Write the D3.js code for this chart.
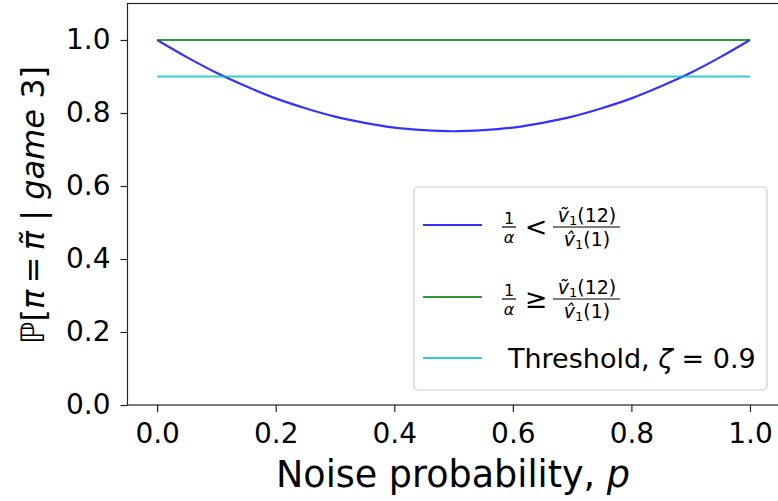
<!DOCTYPE html>
<html lang="en">
<head>
<meta charset="UTF-8">
<title>Chart</title>
<style>
  body { margin: 0; background: #fff; }
  text { font-family: "DejaVu Sans", sans-serif; fill: #000; }
</style>
</head>
<body>
<svg id="svg" width="778" height="501"></svg>
<script src="https://d3js.org/d3.v7.min.js"></script>
<script>
// values
const pValues = [0, 0.05, 0.1, 0.15, 0.2, 0.25, 0.3, 0.35, 0.4, 0.45, 0.5,
                 0.55, 0.6, 0.65, 0.7, 0.75, 0.8, 0.85, 0.9, 0.95, 1]
const lowValues = [1.0, 0.953, 0.91, 0.873, 0.84, 0.813, 0.79, 0.773, 0.76, 0.753, 0.75,
                   0.753, 0.76, 0.773, 0.79, 0.813, 0.84, 0.873, 0.91, 0.953, 1.0]
const highValues = [1.0, 1.0]
const thresholdValues = [0.9, 0.9]
const flatP = [0, 1]
const xTicks = [0, 0.2, 0.4, 0.6, 0.8, 1.0]
const yTicks = [0, 0.2, 0.4, 0.6, 0.8, 1.0]

const svg = d3.select('#svg')
const mLeft = 127.5, mRight = 779.6, mTop = 3.5, mBottom = 405

const x = d3.scaleLinear().domain([-0.05, 1.05]).range([mLeft, mRight])
const y = d3.scaleLinear().domain([0, 1.1]).range([mBottom, mTop])

const line = d3.line().x(d => x(d[0])).y(d => y(d[1]))
const curve = d3.line().x(d => x(d[0])).y(d => y(d[1])).curve(d3.curveCatmullRom)

svg.append('clipPath').attr('id', 'clip')
    .append('rect').attr('x', mLeft).attr('y', mTop).attr('width', mRight - mLeft).attr('height', mBottom - mTop)

const plot = svg.append('g').attr('clip-path', 'url(#clip)')

plot.append('path')
    .attr('d', curve(d3.zip(pValues, lowValues)))
    .attr('fill', 'none').attr('stroke', 'rgba(0,0,255,0.8)').attr('stroke-width', 2.2)

plot.append('path')
    .attr('d', line(d3.zip(flatP, highValues)))
    .attr('fill', 'none').attr('stroke', 'rgba(0,128,0,0.8)').attr('stroke-width', 2.2)

plot.append('path')
    .attr('d', line(d3.zip(flatP, thresholdValues)))
    .attr('fill', 'none').attr('stroke', 'rgba(0,191,191,0.8)').attr('stroke-width', 2.2)

// axes
svg.append('g')
    .attr('class', 'xaxis')
    .attr('transform', `translate(0,${mBottom})`)
    .call(d3.axisBottom(x).tickValues(xTicks).tickFormat(d3.format('.1f')).tickSizeOuter(0).tickSize(7))
svg.append('g')
    .attr('class', 'yaxis')
    .attr('transform', `translate(${mLeft},0)`)
    .call(d3.axisLeft(y).tickValues(yTicks).tickFormat(d3.format('.1f')).tickSizeOuter(0).tickSize(7))

svg.selectAll('.tick text').style('font-size', '28px').style('font-family', '"DejaVu Sans", sans-serif')
svg.selectAll('.xaxis .tick text').attr('y', 38).attr('dy', 0)
svg.selectAll('.yaxis .tick text').attr('x', -17)
svg.selectAll('.domain').remove()
svg.selectAll('.tick line').attr('stroke', '#222').attr('stroke-width', 1.2)

// spines
svg.append('rect')
    .attr('x', mLeft).attr('y', mTop).attr('width', mRight - mLeft).attr('height', mBottom - mTop)
    .attr('fill', 'none').attr('stroke', '#222').attr('stroke-width', 1.2)

// axis labels
svg.append('text')
    .attr('x', 453).attr('y', 487)
    .attr('text-anchor', 'middle').style('font-size', '36.5px')
    .html('Noise probability, <tspan font-style="italic">p</tspan>')

svg.append('text')
    .attr('transform', `translate(44,205) rotate(-90)`)
    .attr('text-anchor', 'middle').style('font-size', '32px')
    .html('ℙ[<tspan font-style="italic">π</tspan>\u2009=\u2009<tspan font-style="italic">π̃</tspan> | <tspan font-style="italic">game</tspan> 3]')

// legend
const legend = svg.append('g')
legend.append('rect')
    .attr('x', 414).attr('y', 187).attr('width', 353).attr('height', 203)
    .attr('rx', 4).attr('fill', 'rgba(255,255,255,0.8)').attr('stroke', '#ccc').attr('stroke-width', 1.2)

const legendItems = [
  { color: 'rgba(0,0,255,0.8)', y: 225, op: '<' },
  { color: 'rgba(0,128,0,0.8)', y: 297, op: '≥' },
  { color: 'rgba(0,191,191,0.8)', y: 358, op: null }
]

legendItems.forEach(item => {
  legend.append('line')
      .attr('x1', 423).attr('x2', 482).attr('y1', item.y).attr('y2', item.y)
      .attr('stroke', item.color).attr('stroke-width', 2.2)
  if (item.op) {
    const bar = item.y + 2
    const g = legend.append('g')
    // 1/alpha
    g.append('text').attr('x', 509).attr('y', bar - 3).attr('text-anchor', 'middle').style('font-size', '16px').text('1')
    g.append('line').attr('x1', 502).attr('x2', 516).attr('y1', bar).attr('y2', bar).attr('stroke', '#000').attr('stroke-width', 1.2)
    g.append('text').attr('x', 509).attr('y', bar + 16).attr('text-anchor', 'middle').style('font-size', '16px').style('font-style', 'italic').text('α')
    g.append('text').attr('x', 536).attr('y', bar + 9).attr('text-anchor', 'middle').style('font-size', '27px').text(item.op)
    // fraction
    g.append('line').attr('x1', 553).attr('x2', 620).attr('y1', bar).attr('y2', bar).attr('stroke', '#000').attr('stroke-width', 1.2)
    g.append('text').attr('x', 587).attr('y', bar - 5).attr('text-anchor', 'middle').style('font-size', '19px')
        .html('<tspan font-style="italic">ṽ</tspan><tspan font-size="13px" dy="3">1</tspan><tspan dy="-3">(12)</tspan>')
    g.append('text').attr('x', 587).attr('y', bar + 19).attr('text-anchor', 'middle').style('font-size', '19px')
        .html('<tspan font-style="italic">v̂</tspan><tspan font-size="13px" dy="3">1</tspan><tspan dy="-3">(1)</tspan>')
  } else {
    legend.append('text').attr('x', 508).attr('y', item.y + 10).style('font-size', '27px')
        .html('Threshold, <tspan font-style="italic">ζ</tspan> = 0.9')
  }
})
</script>
</body>
</html>
